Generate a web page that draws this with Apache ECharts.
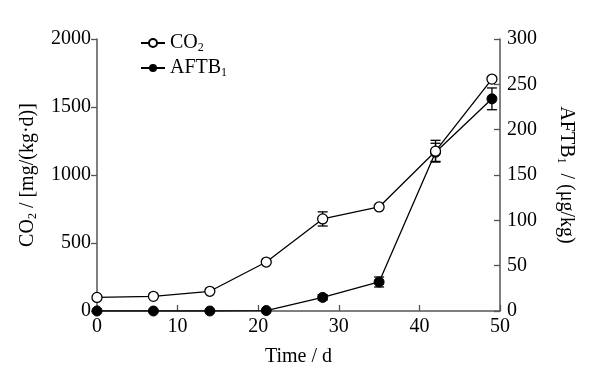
<!DOCTYPE html>
<html>
<head>
<meta charset="utf-8">
<script src="https://cdn.jsdelivr.net/npm/echarts@6/dist/echarts.min.js"></script>
<style>
html, body { margin: 0; padding: 0; background: #fff; }
#chart { width: 590px; height: 378px; }
</style>
</head>
<body>
<div id="chart"></div>
<script>
// sampling days
var days = [0, 7, 14, 21, 28, 35, 42, 49];
// CO2 release, mg/(kg·d), left axis
var co2 = [100, 108, 145, 360, 677, 765, 1175, 1705];
var co2Err = [0, 0, 0, 0, 52, 0, 80, 0];
// AFTB1, ug/kg, right axis
var aftb = [0, 0, 0, 0.5, 15, 32, 175, 234];
var aftbErr = [0, 0, 0, 0, 3, 5.5, 10, 12];

var serif = '"Liberation Serif", "Times New Roman", serif';
var axisColor = '#555';

function pairs(xs, ys) {
    return xs.map(function (x, i) { return [x, ys[i]]; });
}
function errData(xs, ys, es) {
    var out = [];
    xs.forEach(function (x, i) {
        if (es[i] > 0) out.push([x, ys[i] - es[i], ys[i] + es[i]]);
    });
    return out;
}
function errRender(params, api) {
    var lo = api.coord([api.value(0), api.value(1)]);
    var hi = api.coord([api.value(0), api.value(2)]);
    var w = 5;
    var st = { stroke: '#000', lineWidth: 1.3 };
    return {
        type: 'group',
        children: [
            { type: 'line', shape: { x1: lo[0], y1: lo[1], x2: hi[0], y2: hi[1] }, style: st },
            { type: 'line', shape: { x1: lo[0] - w, y1: lo[1], x2: lo[0] + w, y2: lo[1] }, style: st },
            { type: 'line', shape: { x1: hi[0] - w, y1: hi[1], x2: hi[0] + w, y2: hi[1] }, style: st }
        ]
    };
}

var subRich = {
    s: { fontSize: 12, fontFamily: serif, color: '#000', padding: [10, 0, 0, 0] }
};
var plain = function (v) { return String(v); };

var chart = echarts.init(document.getElementById('chart'));
chart.setOption({
    animation: false,
    backgroundColor: '#fff',
    grid: { left: 97, right: 90, top: 39, bottom: 67 },
    legend: {
        left: 135, top: 28, orient: 'vertical', itemGap: 4,
        itemWidth: 24, itemHeight: 10,
        data: ['CO2', 'AFTB1'],
        formatter: function (n) { return n === 'CO2' ? 'CO{s|2}' : 'AFTB{s|1}'; },
        textStyle: { fontFamily: serif, fontSize: 20, color: '#000', rich: subRich }
    },
    xAxis: {
        type: 'value', min: 0, max: 50, interval: 10,
        name: 'Time / d', nameLocation: 'middle', nameGap: 36,
        nameTextStyle: { fontFamily: serif, fontSize: 20, color: '#000' },
        axisLine: { lineStyle: { color: axisColor, width: 1.5 } },
        axisTick: { inside: true, length: 6, lineStyle: { color: axisColor, width: 1.3 } },
        axisLabel: { fontFamily: serif, fontSize: 20, color: '#000', margin: 6, formatter: plain },
        splitLine: { show: false }
    },
    yAxis: [{
        type: 'value', min: 0, max: 2000, interval: 500,
        name: 'CO{s|2} / [mg/(kg·d)]', nameLocation: 'middle', nameGap: 58,
        nameTextStyle: { fontFamily: serif, fontSize: 20, color: '#000', rich: subRich },
        axisLine: { show: true, lineStyle: { color: axisColor, width: 1.5 } },
        axisTick: { show: true, length: 6, lineStyle: { color: axisColor, width: 1.3 } },
        axisLabel: { fontFamily: serif, fontSize: 20, color: '#000', margin: 6, formatter: plain },
        splitLine: { show: false }
    }, {
        type: 'value', min: 0, max: 300, interval: 50, position: 'right',
        name: 'AFTB{s|1}  / (μg/kg)', nameLocation: 'middle', nameGap: 55, nameRotate: -90,
        nameTextStyle: { fontFamily: serif, fontSize: 20, color: '#000', rich: subRich },
        axisLine: { show: true, lineStyle: { color: axisColor, width: 1.5 } },
        axisTick: { show: true, inside: true, length: 6, lineStyle: { color: axisColor, width: 1.3 } },
        axisLabel: { fontFamily: serif, fontSize: 20, color: '#000', margin: 7, formatter: plain },
        splitLine: { show: false }
    }],
    series: [{
        name: 'AFTB1', type: 'line', yAxisIndex: 1,
        data: pairs(days, aftb),
        symbol: 'circle', symbolSize: 10,
        lineStyle: { color: '#000', width: 1.3 },
        itemStyle: { color: '#000', borderColor: '#000' },
        z: 3
    }, {
        name: 'CO2', type: 'line', yAxisIndex: 0,
        data: pairs(days, co2),
        symbol: 'circle', symbolSize: 10,
        lineStyle: { color: '#000', width: 1.3 },
        itemStyle: { color: '#fff', borderColor: '#000', borderWidth: 1.3 },
        z: 4
    }, {
        type: 'custom', yAxisIndex: 0,
        data: errData(days, co2, co2Err),
        renderItem: errRender, z: 2, silent: true
    }, {
        type: 'custom', yAxisIndex: 1,
        data: errData(days, aftb, aftbErr),
        renderItem: errRender, z: 2, silent: true
    }]
});
</script>
</body>
</html>
